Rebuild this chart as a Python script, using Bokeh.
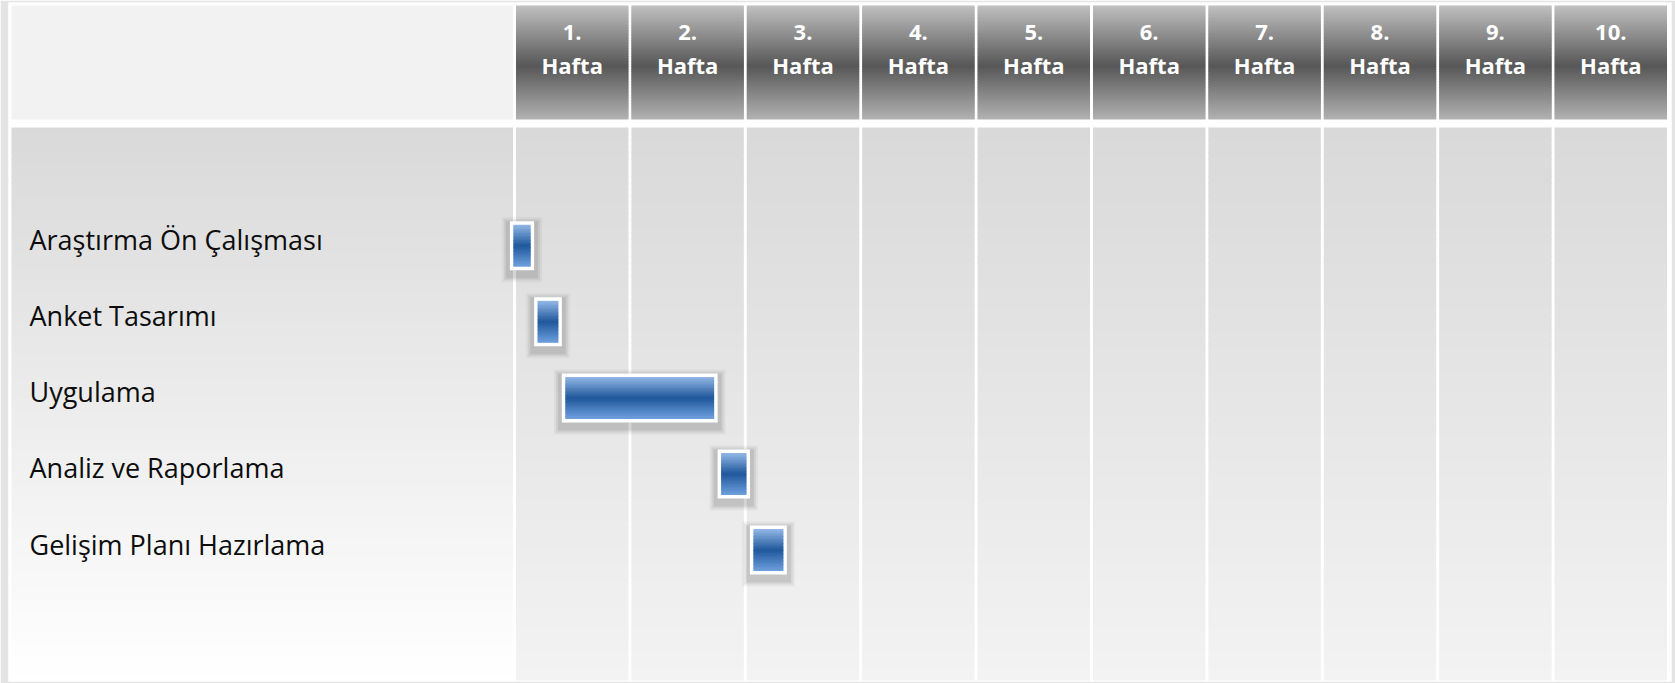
import numpy as np
from bokeh.plotting import figure
from bokeh.models import Range1d
from bokeh.core.properties import value
from bokeh.embed import file_html
from bokeh.resources import INLINE

# ---------------- data ----------------
tasks = ["Araştırma Ön Çalışması", "Anket Tasarımı", "Uygulama",
         "Analiz ve Raporlama", "Gelişim Planı Hazırlama"]
start_week = [-0.04, 0.17, 0.41, 1.76, 2.04]
end_week = [0.17, 0.41, 1.76, 2.04, 2.36]
week_numbers = ["1.", "2.", "3.", "4.", "5.", "6.", "7.", "8.", "9.", "10."]
week_word = "Hafta"

# ---------------- helpers (styling only) ----------------
def hex2rgb(h):
    h = h.lstrip("#")
    return np.array([int(h[i:i + 2], 16) for i in (0, 2, 4)], dtype=float)

def gradient(stops, n):
    pos = np.array([s[0] for s in stops])
    cols = np.array([hex2rgb(s[1]) for s in stops])
    t = (np.arange(n) + 0.5) / n
    out = []
    for tt in t:
        r = np.interp(tt, pos, cols[:, 0]); g = np.interp(tt, pos, cols[:, 1]); b = np.interp(tt, pos, cols[:, 2])
        out.append("#%02x%02x%02x" % (int(round(r)), int(round(g)), int(round(b))))
    return out

W, H = 1675, 683
BL, BT, BR, BB = 8, 2, 4, 2
X0, X1 = -4.385, 10.026
Y0, Y1 = -3.196, 5.727
XPX = (W - BL - BR) / (X1 - X0)
YPX = (H - BT - BB) / (Y1 - Y0)

p = figure(width=W, height=H, x_range=Range1d(X0, X1), y_range=Range1d(Y1, Y0),
           output_backend="svg", toolbar_location=None,
           min_border_left=BL, min_border_top=BT, min_border_right=BR, min_border_bottom=BB,
           x_axis_location=None, y_axis_location=None)
p.grid.visible = False
p.background_fill_color = "white"
p.border_fill_color = "#e4e4e4"
p.outline_line_color = None

nweeks = len(week_numbers)
gx = 1.5 / XPX
left_edge = X0 + 3 / XPX
hdr_top, hdr_bot = -3.156, -1.658
body_top, body_bot = -1.553, 5.714
ov = 1.2 / YPX

def stripes(left, right, top, bot, colors, ovl):
    n = len(colors)
    ed = np.linspace(top, bot, n + 1)
    T = list(ed[:-1])
    B = [min(e + ovl, bot) for e in ed[1:]]
    return [left] * n, [right] * n, T, B, list(colors)

def add_quads(parts, **kw):
    L, R, T, B, C = [], [], [], [], []
    for l, r, t, b, c in parts:
        L += l; R += r; T += t; B += b; C += c
    p.quad(left=L, right=R, top=T, bottom=B, fill_color=C, line_color=None, **kw)

# header left area
p.quad(left=[left_edge], right=[-gx], top=[hdr_top], bottom=[hdr_bot],
       fill_color="#f2f2f2", line_color=None)

# header columns gradient
hcols = gradient([(0, "#c0c0c0"), (0.53, "#575757"), (1, "#b2b2b2")], 70)
add_quads([stripes(i + gx, i + 1 - gx, hdr_top, hdr_bot, hcols, ov) for i in range(nweeks)])

# body gradients
lcols = gradient([(0, "#d9d9d9"), (1, "#ffffff")], 90)
ccols = gradient([(0, "#d9d9d9"), (1, "#f3f3f3")], 90)
parts = [stripes(left_edge, -gx, body_top, body_bot, lcols, ov)]
parts += [stripes(i + gx, i + 1 - gx, body_top, body_bot, ccols, ov) for i in range(nweeks)]
add_quads(parts)

# header texts
xs = [i + 0.5 for i in range(nweeks)]
p.text(x=xs, y=[-2.802] * nweeks, text=week_numbers, text_align="center", text_baseline="middle",
       text_font=value("Open Sans"), text_font_style="bold", text_font_size="22px", text_color="white")
p.text(x=xs, y=[-2.381] * nweeks, text=[week_word] * nweeks, text_align="center", text_baseline="middle",
       text_font=value("Open Sans"), text_font_style="bold", text_font_size="22px", text_color="white")

# task labels
rows = list(range(len(tasks)))
p.text(x=[left_edge + 18 / XPX] * len(tasks), y=rows, text=tasks, text_align="left", text_baseline="middle",
       y_offset=-6, text_font=value("Open Sans"), text_font_size="27px", text_color="#0d0d0d")

# bars
hh = 24.5 / YPX
for k, a in [(8, 0.04), (6, 0.06), (4, 0.08)]:
    p.quad(left=[s - k / XPX for s in start_week], right=[e + k / XPX for e in end_week],
           top=[r - hh - (k - 4) / YPX for r in rows], bottom=[r + hh + (k + 4) / YPX for r in rows],
           fill_color="black", fill_alpha=a, line_color=None)
p.quad(left=start_week, right=end_week, top=[r - hh for r in rows], bottom=[r + hh for r in rows],
       fill_color="white", line_color=None)
bcols = gradient([(0, "#93b8e6"), (0.5, "#1f589c"), (1, "#6fa0de")], 30)
inx = 3.5 / XPX
iny = 3.5 / YPX
add_quads([stripes(s + inx, e - inx, r - hh + iny, r + hh - iny, bcols, 0.8 / YPX)
           for s, e, r in zip(start_week, end_week, rows)])

open("out.html", "w").write(file_html(p, INLINE))
